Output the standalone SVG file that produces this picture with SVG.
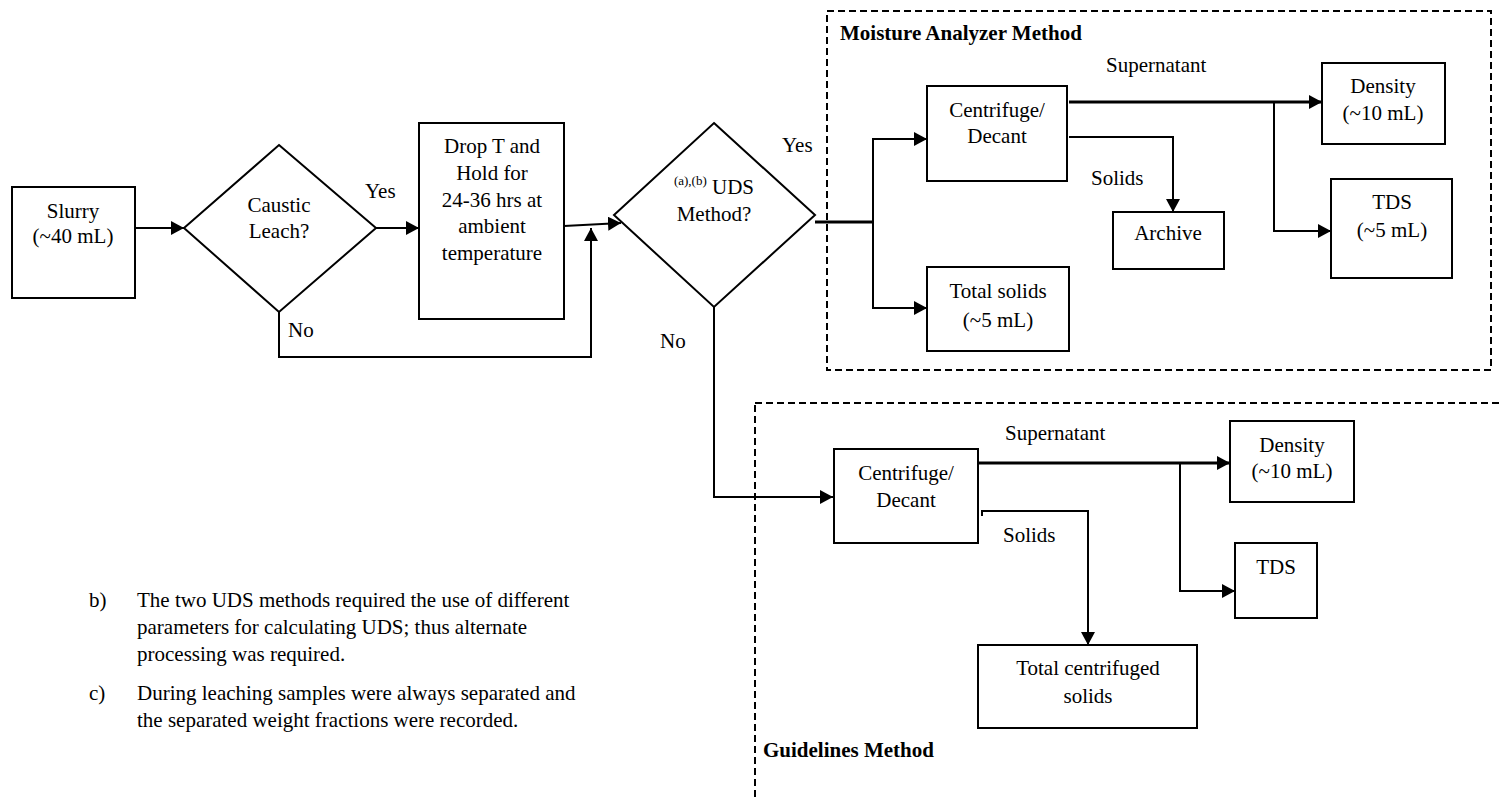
<svg xmlns="http://www.w3.org/2000/svg" width="1499" height="799" viewBox="0 0 1499 799">
<defs>
<style>
.box{fill:#fff;stroke:#000;stroke-width:2}
.dash{fill:none;stroke:#000;stroke-width:2;stroke-dasharray:7 4}
.ln{fill:none;stroke:#000;stroke-width:2}
.thk{fill:none;stroke:#000;stroke-width:3}
text{font-family:"Liberation Serif","Times New Roman",serif;font-size:21px;fill:#000}
.c{text-anchor:middle}
.b{font-weight:bold}
.sup{font-size:13px}
</style>
<marker id="ah" markerUnits="userSpaceOnUse" markerWidth="13" markerHeight="14" refX="13" refY="7" orient="auto">
<path d="M0,0 L13,7 L0,14 z" fill="#000"/>
</marker>
</defs>
<rect width="1499" height="799" fill="#fff"/>

<g id="moisture-region">
<rect class="dash" x="827" y="11" width="664" height="359"/>
<text class="b" x="840" y="40">Moisture Analyzer Method</text>
</g>
<g id="guidelines-region">
<rect class="dash" x="755" y="403" width="780" height="440"/>
<text class="b" x="763" y="757">Guidelines Method</text>
</g>

<g id="connectors">
<line class="ln" x1="135" y1="228" x2="184" y2="228" marker-end="url(#ah)"/>
<line class="ln" x1="376" y1="228" x2="419" y2="228" marker-end="url(#ah)"/>
<line class="ln" x1="564" y1="226" x2="621" y2="223" marker-end="url(#ah)"/>
<polyline class="ln" points="279,312 279,357 591,357 591,228" marker-end="url(#ah)"/>
<polyline class="thk" points="815,222 873,222"/>
<polyline class="ln" points="927,139 873,139 873,308 927,308" marker-end="url(#ah)"/>
<line class="ln" x1="873" y1="139" x2="927" y2="139" marker-end="url(#ah)"/>
<line class="thk" x1="1069" y1="102" x2="1322" y2="102" marker-end="url(#ah)"/>
<polyline class="ln" points="1274,102 1274,231 1331,231" marker-end="url(#ah)"/>
<polyline class="ln" points="1069,137 1173,137 1173,212" marker-end="url(#ah)"/>
<polyline class="ln" points="714,307 714,497 833,497" marker-end="url(#ah)"/>
<line class="thk" x1="975" y1="463" x2="1230" y2="463" marker-end="url(#ah)"/>
<polyline class="ln" points="1180,463 1180,591 1235,591" marker-end="url(#ah)"/>
<polyline class="ln" points="982,516 982,511 1088,511 1088,645" marker-end="url(#ah)"/>
</g>

<g id="labels">
<text x="365" y="198">Yes</text>
<text x="288" y="337">No</text>
<text x="782" y="152">Yes</text>
<text x="660" y="348">No</text>
<text x="1106" y="72">Supernatant</text>
<text x="1091" y="185">Solids</text>
<text x="1005" y="440">Supernatant</text>
<text x="1003" y="542">Solids</text>
</g>

<g id="slurry">
<rect class="box" x="12" y="187" width="123" height="111"/>
<text class="c" x="73" y="218">Slurry</text>
<text class="c" x="73" y="243">(~40 mL)</text>
</g>
<g id="caustic-leach">
<polygon class="box" points="279,145 376,228 279,312 184,228"/>
<text class="c" x="279" y="212">Caustic</text>
<text class="c" x="279" y="238">Leach?</text>
</g>
<g id="drop-t">
<rect class="box" x="419" y="123" width="145" height="196"/>
<text class="c" x="492" y="153">Drop T and</text>
<text class="c" x="492" y="180">Hold for</text>
<text class="c" x="492" y="207">24-36 hrs at</text>
<text class="c" x="492" y="233">ambient</text>
<text class="c" x="492" y="260">temperature</text>
</g>
<g id="uds-method">
<polygon class="box" points="714,123 815,215 714,307 614,215"/>
<text class="c" x="714" y="194"><tspan class="sup" dy="-9">(a),(b)</tspan><tspan dy="9"> UDS</tspan></text>
<text class="c" x="714" y="221">Method?</text>
</g>

<g id="centrifuge-1">
<rect class="box" x="927" y="86" width="140" height="95"/>
<text class="c" x="997" y="117">Centrifuge/</text>
<text class="c" x="997" y="143">Decant</text>
</g>
<g id="density-1">
<rect class="box" x="1322" y="63" width="123" height="81"/>
<text class="c" x="1383" y="93">Density</text>
<text class="c" x="1383" y="120">(~10 mL)</text>
</g>
<g id="tds-1">
<rect class="box" x="1331" y="179" width="121" height="99"/>
<text class="c" x="1392" y="209">TDS</text>
<text class="c" x="1392" y="237">(~5 mL)</text>
</g>
<g id="archive">
<rect class="box" x="1113" y="212" width="111" height="57"/>
<text class="c" x="1168" y="240">Archive</text>
</g>
<g id="total-solids">
<rect class="box" x="927" y="267" width="142" height="84"/>
<text class="c" x="998" y="298">Total solids</text>
<text class="c" x="998" y="327">(~5 mL)</text>
</g>

<g id="centrifuge-2">
<rect class="box" x="834" y="449" width="144" height="94"/>
<text class="c" x="906" y="480">Centrifuge/</text>
<text class="c" x="906" y="507">Decant</text>
</g>
<g id="density-2">
<rect class="box" x="1230" y="421" width="124" height="81"/>
<text class="c" x="1292" y="452">Density</text>
<text class="c" x="1292" y="478">(~10 mL)</text>
</g>
<g id="tds-2">
<rect class="box" x="1235" y="543" width="82" height="75"/>
<text class="c" x="1276" y="574">TDS</text>
</g>
<g id="total-centrifuged">
<rect class="box" x="978" y="645" width="219" height="83"/>
<text class="c" x="1088" y="675">Total centrifuged</text>
<text class="c" x="1088" y="703">solids</text>
</g>

<g id="notes">
<text x="89" y="607">b)</text>
<text x="137" y="607">The two UDS methods required the use of different</text>
<text x="137" y="634">parameters for calculating UDS; thus alternate</text>
<text x="137" y="661">processing was required.</text>
<text x="89" y="700">c)</text>
<text x="137" y="700">During leaching samples were always separated and</text>
<text x="137" y="727">the separated weight fractions were recorded.</text>
</g>
</svg>
